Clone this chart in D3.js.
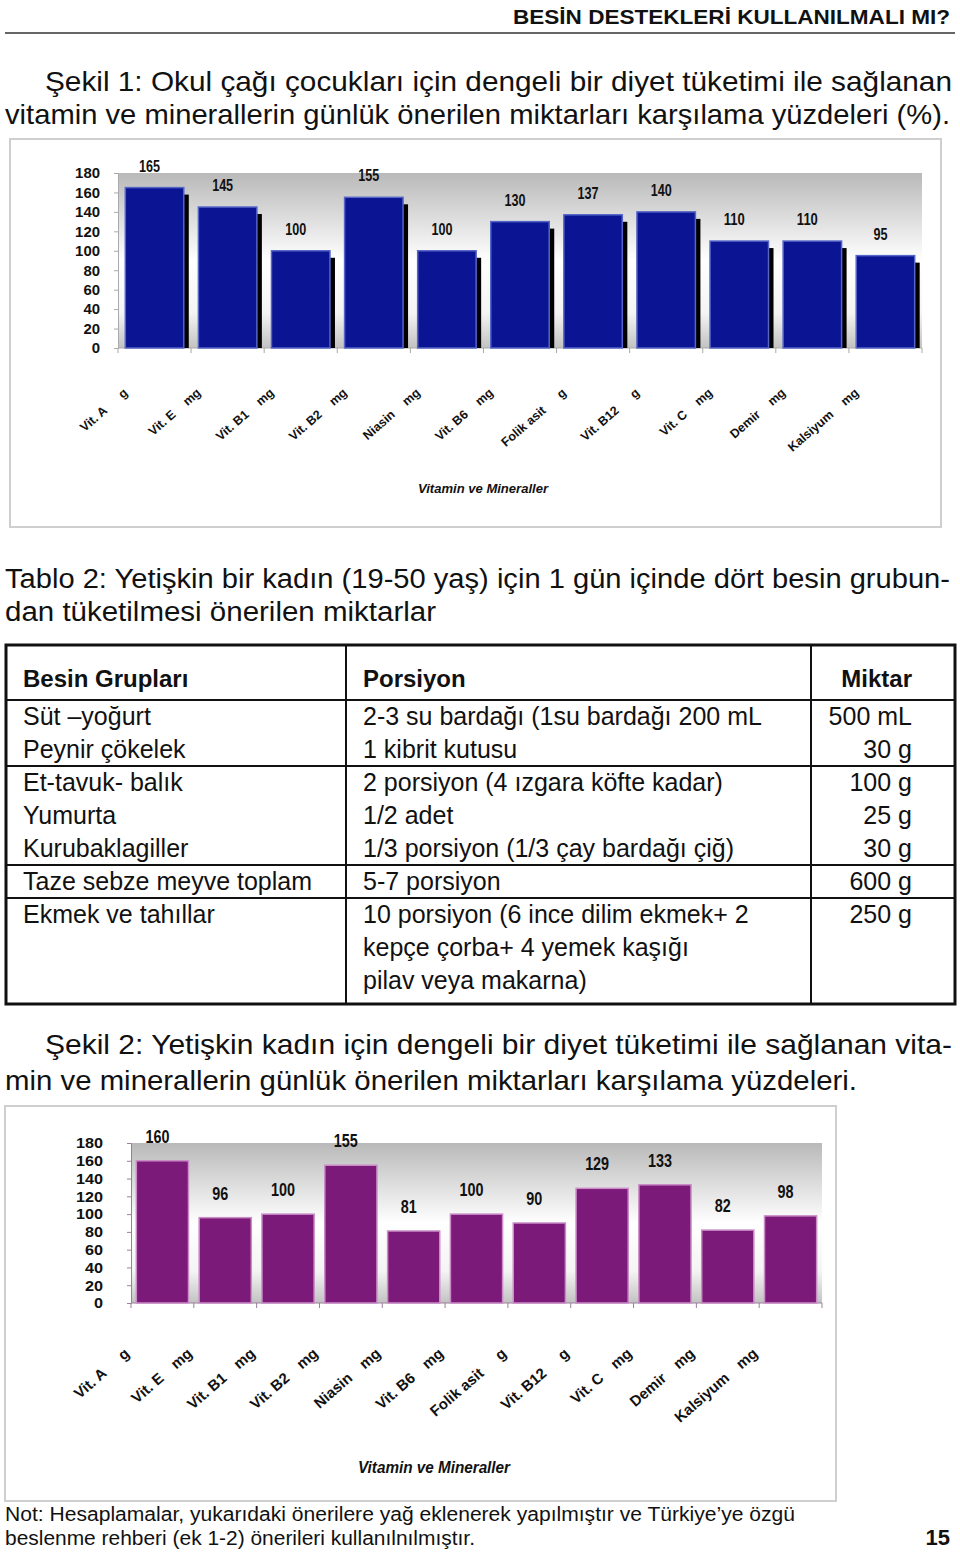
<!DOCTYPE html>
<html>
<head>
<meta charset="utf-8">
<script src="https://cdn.jsdelivr.net/npm/d3@7"></script>
<style>
  body { margin: 0; background: #fff; }
  svg { display: block; }
</style>
</head>
<body>
<div id="page"></div>
<script>
// ---- data ----
const categories = ['Vit. A', 'Vit. E', 'Vit. B1', 'Vit. B2', 'Niasin', 'Vit. B6', 'Folik asit', 'Vit. B12', 'Vit. C', 'Demir', 'Kalsiyum'];
const units = ['g', 'mg', 'mg', 'mg', 'mg', 'mg', 'g', 'g', 'mg', 'mg', 'mg'];
const childValues = [165, 145, 100, 155, 100, 130, 137, 140, 110, 110, 95];
const womanValues = [160, 96, 100, 155, 81, 100, 90, 129, 133, 82, 98];
const yTicks = [0, 20, 40, 60, 80, 100, 120, 140, 160, 180];
const axisTitle = 'Vitamin ve Mineraller';

const tableHead = ['Besin Grupları', 'Porsiyon', 'Miktar'];
const tableGroups = [
    [['Süt –yoğurt', '2-3 su bardağı (1su bardağı 200 mL', '500 mL'],
     ['Peynir çökelek', '1 kibrit kutusu', '30 g']],
    [['Et-tavuk- balık', '2 porsiyon (4 ızgara köfte kadar)', '100 g'],
     ['Yumurta', '1/2 adet', '25 g'],
     ['Kurubaklagiller', '1/3 porsiyon (1/3 çay bardağı çiğ)', '30 g']],
    [['Taze sebze meyve toplam', '5-7 porsiyon', '600 g']],
    [['Ekmek ve tahıllar', '10 porsiyon (6 ince dilim ekmek+ 2', '250 g'],
     ['', 'kepçe çorba+ 4 yemek kaşığı', ''],
     ['', 'pilav veya makarna)', '']]
];

const SANS = '"Liberation Sans", Arial, Helvetica, sans-serif';

const svg = d3.select('#page').append('svg')
    .attr('width', 960)
    .attr('height', 1552);

const defs = svg.append('defs');
const grad = defs.append('linearGradient')
    .attr('id', 'plotBg')
    .attr('x1', 0).attr('y1', 0).attr('x2', 0).attr('y2', 1);
grad.append('stop').attr('offset', '0%').attr('stop-color', '#b9b9b9');
grad.append('stop').attr('offset', '50%').attr('stop-color', '#ffffff');
grad.append('stop').attr('offset', '80%').attr('stop-color', '#f4f4f4');
grad.append('stop').attr('offset', '100%').attr('stop-color', '#c2c2c2');

function addText(x, y, str, o = {}) {
    const t = svg.append('text')
        .attr('x', x)
        .attr('y', y)
        .attr('font-family', SANS)
        .attr('font-size', o.size || 24)
        .attr('font-weight', o.weight || 'normal')
        .attr('text-anchor', o.anchor || 'start')
        .attr('fill', o.fill || '#111')
        .text(str);
    if (o.width) t.attr('textLength', o.width).attr('lengthAdjust', 'spacingAndGlyphs');
    return t;
}

// ---- page header ----
addText(950, 24, 'BESİN DESTEKLERİ KULLANILMALI MI?', { size: 20, weight: 'bold', anchor: 'end', width: 437 });
svg.append('line').attr('x1', 5).attr('x2', 955).attr('y1', 33).attr('y2', 33)
    .attr('stroke', '#666').attr('stroke-width', 2);

addText(45, 91, 'Şekil 1: Okul çağı çocukları için dengeli bir diyet tüketimi ile sağlanan', { size: 28, width: 907 });
addText(5, 124, 'vitamin ve minerallerin günlük önerilen miktarları karşılama yüzdeleri (%).', { size: 28, width: 945 });

// ---- bar chart ----
function barChart(cfg) {
    const g = svg.append('g');

    g.append('rect')
        .attr('x', cfg.frame[0]).attr('y', cfg.frame[1])
        .attr('width', cfg.frame[2]).attr('height', cfg.frame[3])
        .attr('fill', 'none').attr('stroke', '#cfcfcf').attr('stroke-width', 2);

    const x = d3.scaleBand()
        .domain(categories)
        .range([cfg.left, cfg.right])
        .paddingInner(cfg.padIn)
        .paddingOuter(cfg.padOut);

    const y = d3.scaleLinear()
        .domain([0, 180])
        .range([cfg.bottom, cfg.top]);

    g.append('rect')
        .attr('x', cfg.left).attr('y', cfg.top)
        .attr('width', cfg.right - cfg.left).attr('height', cfg.bottom - cfg.top)
        .attr('fill', 'url(#plotBg)');

    // y axis
    const yAxis = g.append('g')
        .attr('transform', `translate(${cfg.left},0)`)
        .call(d3.axisLeft(y).tickValues(yTicks).tickSize(4).tickPadding(cfg.tickPad));
    yAxis.select('.domain').attr('stroke', cfg.axisColor);
    yAxis.selectAll('.tick line').attr('stroke', cfg.axisColor);
    yAxis.selectAll('.tick text')
        .attr('font-family', SANS)
        .attr('font-size', cfg.tickSize)
        .attr('font-weight', 'bold')
        .attr('fill', '#111')
        .attr('textLength', d => String(d).length * cfg.tickDigit)
        .attr('lengthAdjust', 'spacingAndGlyphs');

    // x baseline + band ticks
    g.append('line')
        .attr('x1', cfg.left).attr('x2', cfg.right)
        .attr('y1', cfg.bottom).attr('y2', cfg.bottom)
        .attr('stroke', cfg.axisColor);
    const edges = d3.range(categories.length + 1).map(i => cfg.left + i * (cfg.right - cfg.left) / categories.length);
    g.selectAll('.xtick').data(edges).enter().append('line')
        .attr('class', 'xtick')
        .attr('x1', d => d).attr('x2', d => d)
        .attr('y1', cfg.bottom).attr('y2', cfg.bottom + 5)
        .attr('stroke', cfg.axisColor);

    const data = categories.map((c, i) => ({ name: c, unit: units[i], value: cfg.values[i] }));

    if (cfg.shadow) {
        g.selectAll('.shadow').data(data).enter().append('rect')
            .attr('x', d => x(d.name) + 5)
            .attr('y', d => y(d.value) + 7)
            .attr('width', x.bandwidth())
            .attr('height', d => cfg.bottom - y(d.value) - 7)
            .attr('fill', '#000');
    }

    g.selectAll('.bar').data(data).enter().append('rect')
        .attr('x', d => x(d.name))
        .attr('y', d => y(d.value))
        .attr('width', x.bandwidth())
        .attr('height', d => cfg.bottom - y(d.value))
        .attr('fill', cfg.barColor)
        .attr('stroke', cfg.edgeColor)
        .attr('stroke-width', 1.5);

    g.selectAll('.val').data(data).enter().append('text')
        .attr('x', d => x(d.name) + x.bandwidth() / 2 - 5)
        .attr('y', d => y(d.value) - cfg.valGap)
        .attr('text-anchor', 'middle')
        .attr('font-family', SANS)
        .attr('font-size', cfg.valSize)
        .attr('font-weight', 'bold')
        .attr('fill', '#111')
        .attr('textLength', d => String(d.value).length * cfg.valDigit)
        .attr('lengthAdjust', 'spacingAndGlyphs')
        .text(d => d.value);

    // rotated category labels: name ... unit
    const lab = g.selectAll('.cat').data(data).enter().append('g')
        .attr('transform', d => `translate(${x(d.name) + x.bandwidth() / 2 + cfg.labDx},${cfg.bottom + cfg.labDy}) rotate(-41)`);
    lab.append('text')
        .attr('text-anchor', 'end')
        .attr('font-family', SANS)
        .attr('font-size', cfg.labSize)
        .attr('font-weight', 'bold')
        .attr('fill', '#111')
        .text(d => d.unit);
    lab.append('text')
        .attr('x', d => -cfg.unitGap - (d.unit === 'mg' ? cfg.labSize * 0.9 : cfg.labSize * 0.4))
        .attr('text-anchor', 'end')
        .attr('font-family', SANS)
        .attr('font-size', cfg.labSize)
        .attr('font-weight', 'bold')
        .attr('fill', '#111')
        .text(d => d.name);

    g.append('text')
        .attr('x', cfg.titleX).attr('y', cfg.titleY)
        .attr('text-anchor', 'middle')
        .attr('font-family', SANS)
        .attr('font-size', cfg.titleSize)
        .attr('font-weight', 'bold')
        .attr('font-style', 'italic')
        .attr('fill', '#111')
        .attr('textLength', cfg.titleW)
        .attr('lengthAdjust', 'spacingAndGlyphs')
        .text(axisTitle);
}

barChart({
    values: childValues,
    frame: [10, 139, 931, 388],
    left: 118, right: 922, top: 173, bottom: 348,
    padIn: 0.2, padOut: 0.1,
    axisColor: '#aaa',
    tickPad: 14, tickSize: 15, tickDigit: 8.3,
    shadow: true,
    barColor: '#0b1593', edgeColor: '#5565c8',
    valSize: 16, valGap: 16, valDigit: 7,
    labDx: -26, labDy: 46, labSize: 12.5, unitGap: 22,
    titleX: 483, titleY: 493, titleSize: 13, titleW: 130
});

// ---- table ----
addText(5, 588, 'Tablo 2: Yetişkin bir kadın  (19-50 yaş) için 1 gün içinde dört besin grubun-', { size: 27, width: 945 });
addText(5, 621, 'dan tüketilmesi önerilen miktarlar', { size: 27, width: 431 });

const tbl = svg.append('g');
const colX = [6, 346, 811, 955];
const tTop = 645, headH = 55, rowH = 33;
tbl.selectAll('.hd').data(tableHead).enter().append('text')
    .attr('x', (d, i) => i === 2 ? 912 : colX[i] + 17)
    .attr('y', tTop + 42)
    .attr('text-anchor', (d, i) => i === 2 ? 'end' : 'start')
    .attr('font-family', SANS)
    .attr('font-size', 24)
    .attr('font-weight', 'bold')
    .attr('fill', '#111')
    .text(d => d);

let cy = tTop + headH;
const seps = [cy];
tableGroups.forEach((grp, gi) => {
    grp.forEach(row => {
        row.forEach((cell, ci) => {
            if (!cell) return;
            tbl.append('text')
                .attr('x', ci === 2 ? 912 : colX[ci] + 17)
                .attr('y', cy + 25)
                .attr('text-anchor', ci === 2 ? 'end' : 'start')
                .attr('font-family', SANS)
                .attr('font-size', 25)
                .attr('fill', '#111')
                .text(cell);
        });
        cy += rowH;
    });
    if (gi < tableGroups.length - 1) seps.push(cy);
});
const tBottom = cy + 7;
tbl.selectAll('.sep').data(seps).enter().append('line')
    .attr('x1', colX[0]).attr('x2', colX[3])
    .attr('y1', d => d).attr('y2', d => d)
    .attr('stroke', '#111').attr('stroke-width', 2);
tbl.selectAll('.col').data([colX[1], colX[2]]).enter().append('line')
    .attr('x1', d => d).attr('x2', d => d)
    .attr('y1', tTop).attr('y2', tBottom)
    .attr('stroke', '#111').attr('stroke-width', 2);
tbl.append('rect')
    .attr('x', colX[0]).attr('y', tTop)
    .attr('width', colX[3] - colX[0]).attr('height', tBottom - tTop)
    .attr('fill', 'none').attr('stroke', '#111').attr('stroke-width', 3);

// ---- second chart ----
addText(45, 1054, 'Şekil 2: Yetişkin kadın için dengeli bir diyet tüketimi ile sağlanan vita-', { size: 28, width: 907 });
addText(5, 1090, 'min ve minerallerin günlük önerilen miktarları karşılama yüzdeleri.', { size: 28, width: 852 });

barChart({
    values: womanValues,
    frame: [5, 1106, 831, 395],
    left: 131, right: 822, top: 1143, bottom: 1303,
    padIn: 0.17, padOut: 0.085,
    axisColor: '#9a7f9a',
    tickPad: 24, tickSize: 15, tickDigit: 9,
    shadow: false,
    barColor: '#7b1a78', edgeColor: '#c98cc6',
    valSize: 18, valGap: 18, valDigit: 8,
    labDx: -32, labDy: 52, labSize: 15, unitGap: 24,
    titleX: 434, titleY: 1473, titleSize: 17, titleW: 152
});

// ---- footnote ----
addText(5, 1521, 'Not: Hesaplamalar, yukarıdaki önerilere yağ eklenerek yapılmıştır ve Türkiye’ye özgü', { size: 20, width: 790 });
addText(5, 1545, 'beslenme rehberi (ek 1-2) önerileri kullanılnılmıştır.', { size: 20, width: 470 });
addText(950, 1545, '15', { size: 22, weight: 'bold', anchor: 'end' });
</script>
</body>
</html>
